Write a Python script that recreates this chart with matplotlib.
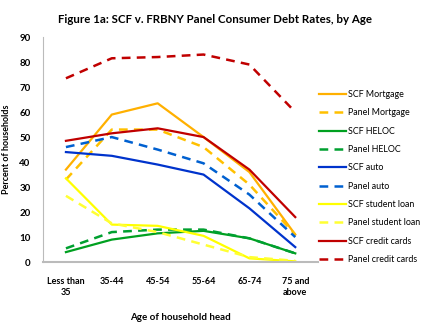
import numpy as np
import matplotlib.pyplot as plt

plt.rcParams['font.family'] = ['Lato', 'DejaVu Sans']

ages = ['Less than\n35', '35-44', '45-54', '55-64', '65-74', '75 and\nabove']

scf_mortgage = [37, 59, 63.5, 50, 36, 11]
panel_mortgage = [33, 53, 53, 46, 31, 11]
scf_heloc = [4, 9, 11.5, 12.5, 9.5, 3.5]
panel_heloc = [5.5, 12, 13, 13, 9.5, 3.5]
scf_auto = [44, 42.5, 39, 35, 21.5, 6]
panel_auto = [46, 50, 45, 39.5, 27, 10]
scf_student = [33.5, 15, 14.5, 10.5, 1.5, 0.3]
panel_student = [26.5, 15.5, 12, 7, 2, 0.5]
scf_credit = [48.5, 51.5, 53.5, 50, 37, 18]
panel_credit = [73.5, 81.5, 82, 83, 79, 60]

series = [
    ('SCF Mortgage', scf_mortgage, '#FFB000', '-'),
    ('Panel Mortgage', panel_mortgage, '#FFC000', '--'),
    ('SCF HELOC', scf_heloc, '#00A020', '-'),
    ('Panel HELOC', panel_heloc, '#00A030', '--'),
    ('SCF auto', scf_auto, '#0033CC', '-'),
    ('Panel auto', panel_auto, '#0060D0', '--'),
    ('SCF student loan', scf_student, '#FFFF00', '-'),
    ('Panel student loan', panel_student, '#FFFF33', '--'),
    ('SCF credit cards', scf_credit, '#C00000', '-'),
    ('Panel credit cards', panel_credit, '#C00000', '--'),
]

fig = plt.figure(figsize=(4.3, 3.22), dpi=100)
ax = fig.add_axes([0.1, 0.186, 0.64, 0.699])
x = np.arange(len(ages))
for name, vals, col, ls in series:
    if ls == '--':
        ax.plot(x, vals, color=col, lw=1.8, linestyle=(0, (3.5, 2.5)), label=name)
    else:
        ax.plot(x, vals, color=col, lw=1.6, label=name)

ax.set_xlim(-0.5, 5.5)
ax.set_ylim(0, 90)
ax.set_yticks(range(0, 91, 10))
ax.set_xticks(x)
ax.set_xticklabels(ages, fontsize=6.5, fontweight='bold')
ax.tick_params(axis='y', labelsize=7, length=0, pad=9)
ax.tick_params(axis='x', length=0, pad=11)
for lab in ax.get_yticklabels():
    lab.set_fontweight('bold')
for s in ['top', 'right']:
    ax.spines[s].set_visible(False)
ax.spines['left'].set_color('#BBBBBB')
ax.spines['bottom'].set_color('#BBBBBB')
ax.spines['bottom'].set_linewidth(1.5)

ax.set_ylabel('Percent of households', fontsize=6.5, fontweight='bold', labelpad=6)
ax.set_xlabel('Age of household head', fontsize=7, fontweight='bold', labelpad=12)
fig.suptitle('Figure 1a: SCF v. FRBNY Panel Consumer Debt Rates, by Age',
             fontsize=8.3, fontweight='bold', x=0.5, y=0.955)

fig.legend(loc='upper left', bbox_to_anchor=(0.742, 0.72), frameon=False,
           borderpad=0, borderaxespad=0,
           fontsize=6.4, handlelength=3.0, handletextpad=0.3, labelspacing=1.05)

fig.savefig('out.png', dpi=100)
